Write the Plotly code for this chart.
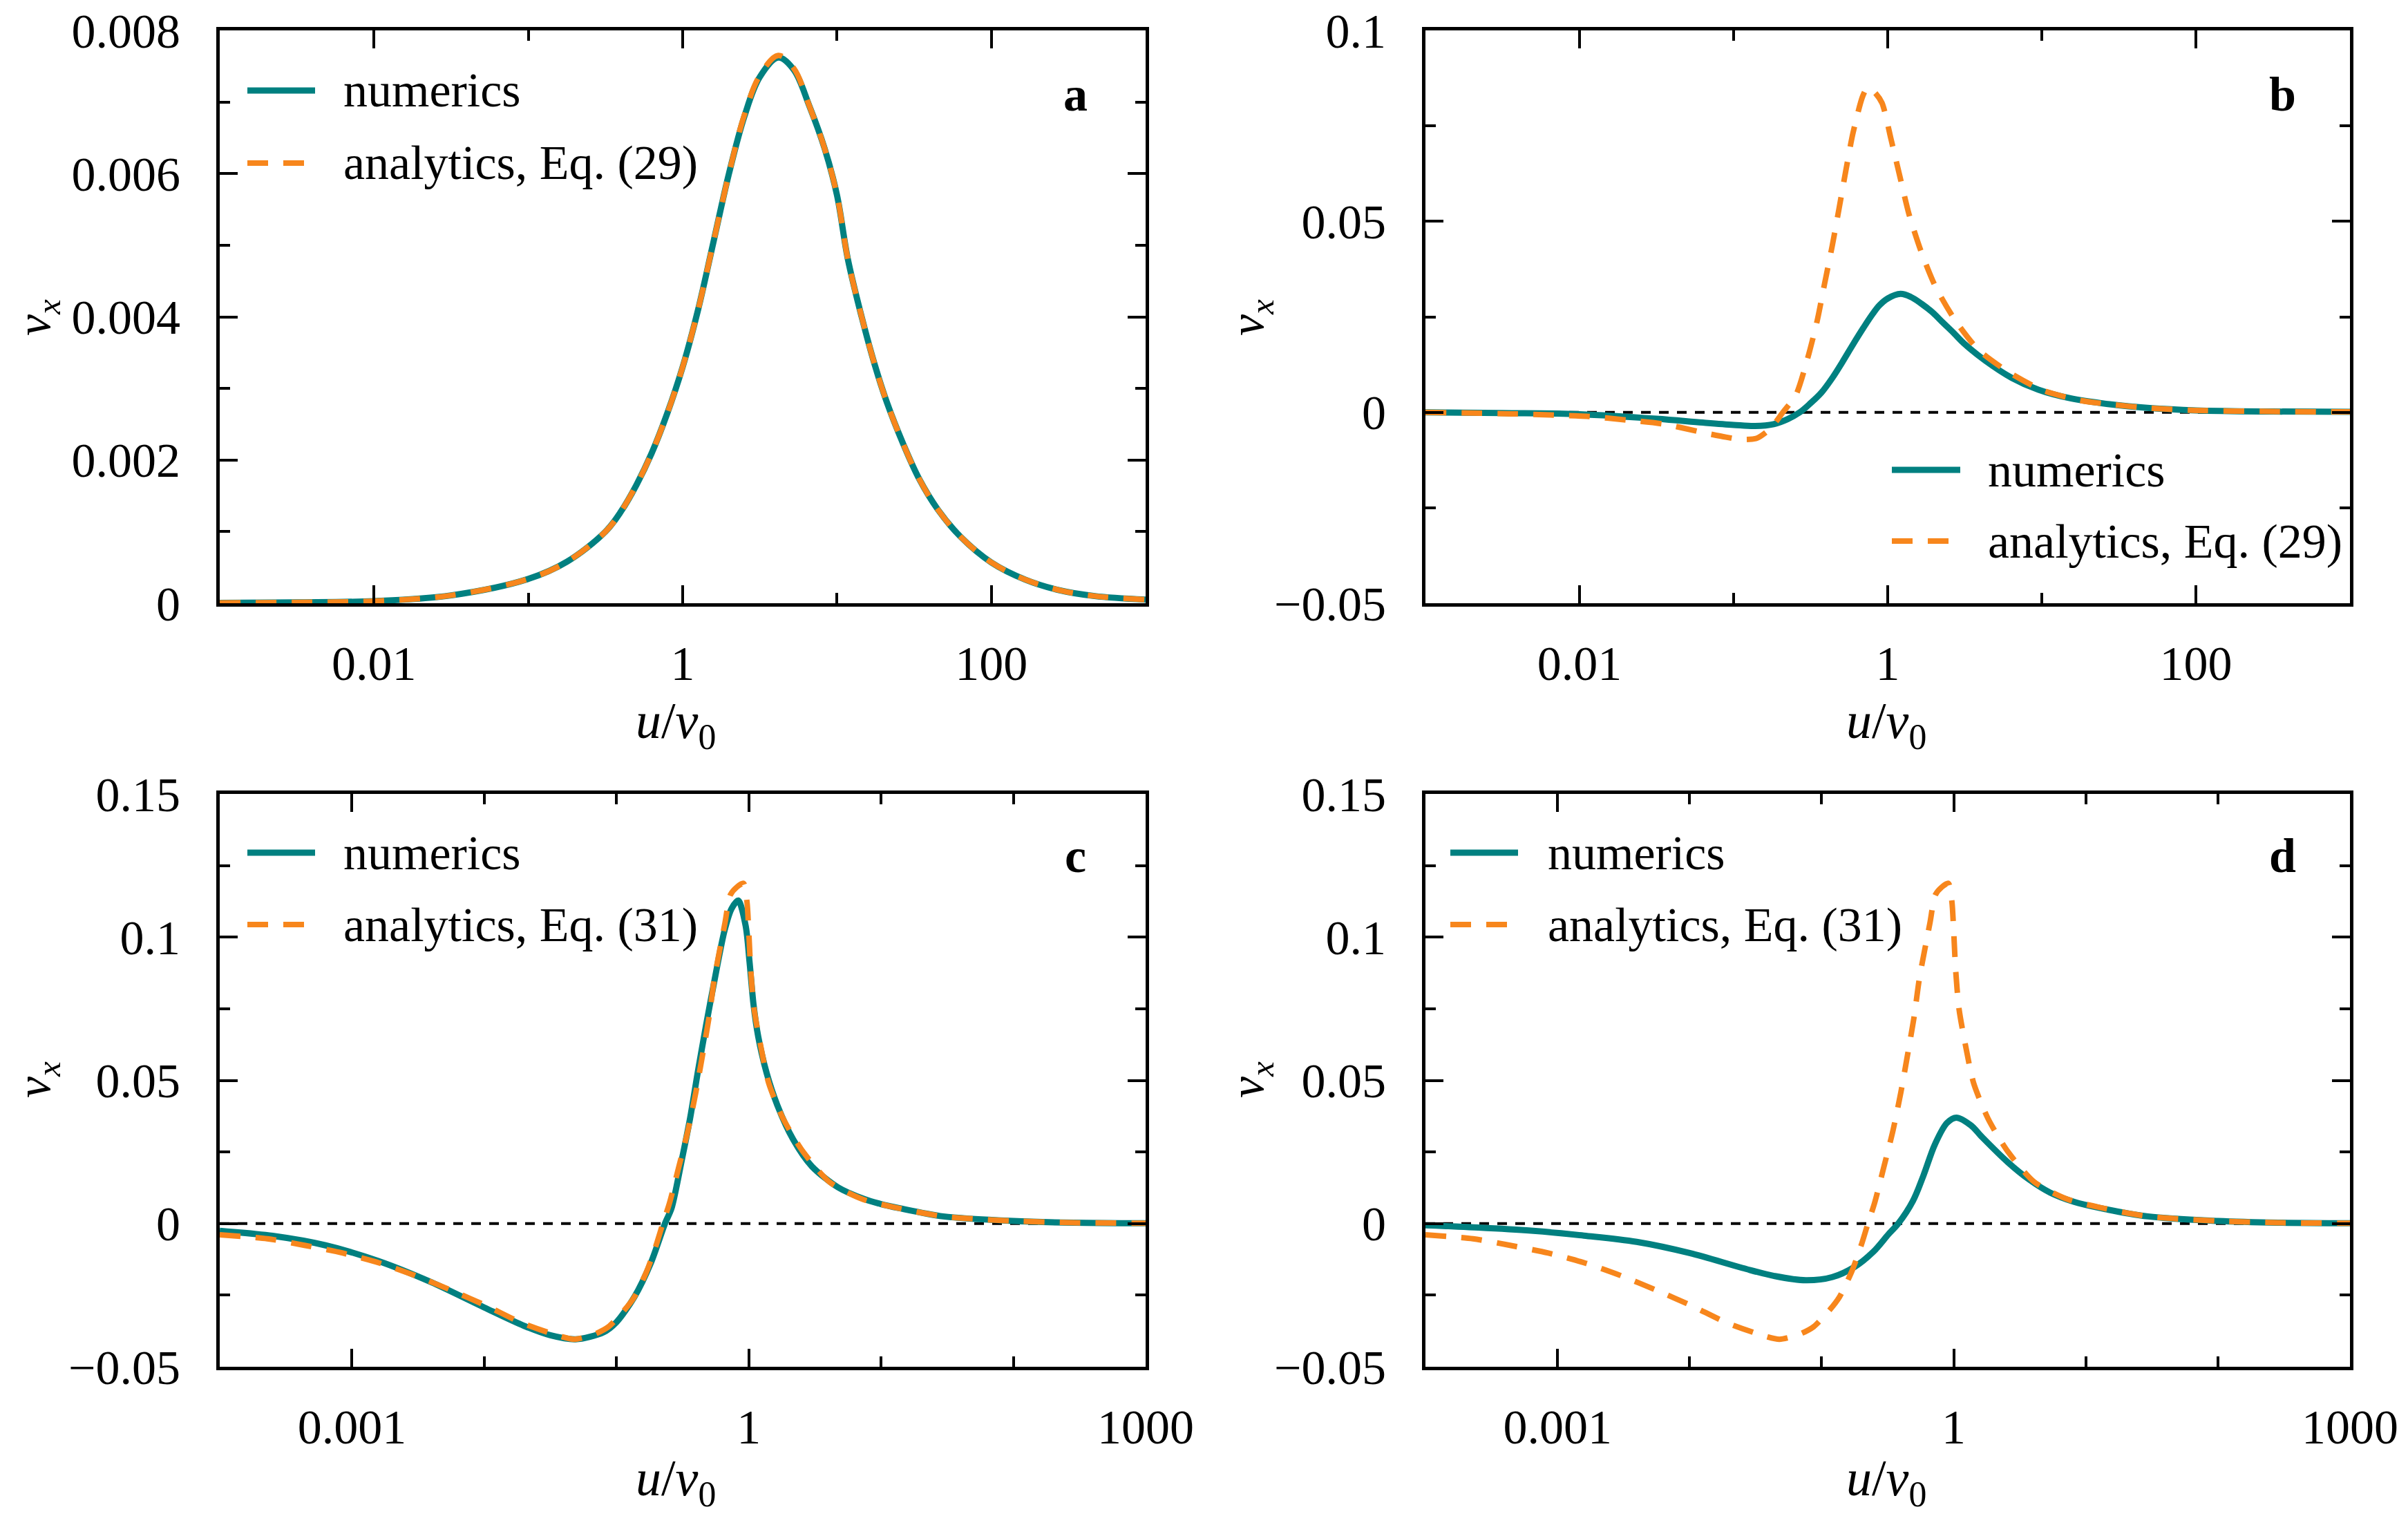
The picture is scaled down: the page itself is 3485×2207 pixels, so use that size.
import plotly.graph_objects as go

# ---------------- data ----------------
# Panel a  (u/v0 , v_x)
u_a = [0.001, 0.00316, 0.01, 0.0316, 0.1, 0.178, 0.316, 0.398, 0.501, 0.631,
       0.794, 1.0, 1.259, 1.585, 1.995, 2.512, 3.162, 4.169, 5.248, 6.607,
       8.318, 10.0, 11.75, 14.45, 17.46, 21.09, 26.92, 34.20, 44.98, 63.10,
       100.0, 166.0, 278.6, 467.7, 1000.0]
num_a = [0.000005, 0.000012, 0.00003, 0.00011, 0.00034, 0.00058, 0.00100, 0.00128, 0.00165, 0.00210,
         0.00265, 0.00330, 0.00410, 0.00505, 0.00600, 0.00680, 0.00735, 0.00762, 0.00745, 0.00695,
         0.00635, 0.00570, 0.00481, 0.00400, 0.00335, 0.00280, 0.00222, 0.00173, 0.00131, 0.00093,
         0.00057, 0.00033, 0.00018, 0.00010, 0.00005]
ana_a = [0.000005, 0.000012, 0.00003, 0.00011, 0.00034, 0.00058, 0.00100, 0.00128, 0.00165, 0.00210,
         0.00265, 0.00330, 0.00410, 0.00505, 0.00600, 0.00682, 0.00737, 0.00765, 0.00747, 0.00695,
         0.00635, 0.00570, 0.00481, 0.00400, 0.00335, 0.00280, 0.00222, 0.00173, 0.00131, 0.00093,
         0.00057, 0.00033, 0.00018, 0.00010, 0.00005]

# Panel b
u_b_num = [0.001, 0.00316, 0.01, 0.0316, 0.0631, 0.1, 0.138, 0.182, 0.224, 0.269,
           0.316, 0.372, 0.437, 0.507, 0.596, 0.695, 0.794, 0.883, 1.0, 1.211,
           1.413, 1.66, 1.95, 2.28, 2.69, 3.13, 4.31, 6.40, 9.51, 15.14,
           27.54, 50.1, 100.0, 316.2, 1000.0]
num_b = [0.0, -0.0002, -0.0005, -0.0017, -0.0027, -0.0033, -0.0036, -0.0031, -0.0018, 0.0,
         0.0024, 0.0052, 0.0090, 0.0131, 0.0178, 0.0221, 0.0256, 0.0280, 0.0298, 0.0310,
         0.0302, 0.0284, 0.0262, 0.0235, 0.0207, 0.0180, 0.0135, 0.0090, 0.0059, 0.0037,
         0.0021, 0.0011, 0.0005, 0.0002, 0.0001]
u_b_ana = [0.001, 0.00363, 0.00646, 0.01148, 0.01995, 0.0355, 0.0631, 0.0891, 0.1104, 0.1413,
           0.1738, 0.2089, 0.2535, 0.3006, 0.3483, 0.3890, 0.4365, 0.4831, 0.5333, 0.5943,
           0.6871, 0.7413, 0.8222, 0.9183, 1.054, 1.202, 1.374, 1.644, 2.042, 2.729,
           3.890, 6.166, 10.23, 17.78, 27.54, 50.1, 100.0, 316.2, 1000.0]
ana_b = [0.0, -0.0004, -0.0007, -0.0011, -0.0020, -0.0031, -0.0053, -0.0065, -0.0071, -0.0068,
         -0.0042, 0.0, 0.0045, 0.0138, 0.0239, 0.0336, 0.0436, 0.0533, 0.0630, 0.0730,
         0.0827, 0.0850, 0.0838, 0.0810, 0.0713, 0.0616, 0.0519, 0.0422, 0.0329, 0.0242,
         0.0163, 0.0104, 0.0057, 0.0031, 0.0021, 0.0011, 0.0005, 0.0002, 0.0001]

# Panel c
u_c_num = [0.0001, 0.000251, 0.000631, 0.001585, 0.00398, 0.01, 0.01995, 0.0316, 0.049, 0.0794,
           0.1, 0.1365, 0.1820, 0.2323, 0.2606, 0.3133, 0.3597, 0.4130, 0.4742, 0.5445,
           0.6546, 0.7413, 0.8318, 0.9462, 1.014, 1.086, 1.178, 1.367, 1.644, 2.168,
           2.992, 4.742, 7.516, 10.0, 13.68, 29.51, 100.0, 288.4, 1000.0]
num_c = [-0.0025, -0.0043, -0.0076, -0.0131, -0.0205, -0.0293, -0.0357, -0.0390, -0.0404, -0.0380,
         -0.0344, -0.0256, -0.0137, 0.0, 0.0054, 0.0228, 0.0367, 0.0533, 0.0690, 0.0838,
         0.1022, 0.1100, 0.1128, 0.1040, 0.0911, 0.0764, 0.0653, 0.0524, 0.0413, 0.0293,
         0.0200, 0.0126, 0.0085, 0.0068, 0.0054, 0.0025, 0.0009, 0.0003, 0.0001]

# Analytics, Eq. (31) (panels c and d)
u_eq31 = [0.0001, 0.000229, 0.000437, 0.000851, 0.001622, 0.00302, 0.00562, 0.01047, 0.01905, 0.0355,
          0.0479, 0.0676, 0.0871, 0.1148, 0.1365, 0.1698, 0.1995, 0.2239, 0.2512, 0.2951,
          0.3467, 0.3981, 0.4467, 0.5012, 0.5495, 0.6607, 0.7244, 0.8128, 0.9120, 0.9683,
          1.0, 1.033, 1.096, 1.230, 1.413, 1.820, 2.570, 4.074, 7.244, 12.88,
          29.51, 100.0, 288.4, 1000.0]
ana_c = [-0.0039, -0.0053, -0.0076, -0.0103, -0.0138, -0.0182, -0.0233, -0.0288, -0.0346, -0.0390,
         -0.0404, -0.0387, -0.0360, -0.0302, -0.0256, -0.0165, -0.0075, 0.0, 0.0071, 0.0196,
         0.0325, 0.0459, 0.0588, 0.0722, 0.0856, 0.1050, 0.1147, 0.1175, 0.1188, 0.1124,
         0.1017, 0.0888, 0.0750, 0.0620, 0.0491, 0.0366, 0.0251, 0.0145, 0.0085, 0.0056,
         0.0025, 0.0009, 0.0003, 0.0001]
ana_d = list(ana_c)

# Panel d numerics
u_d_num = [0.0001, 0.000251, 0.000631, 0.001585, 0.00398, 0.01, 0.0251, 0.0437, 0.0759, 0.1202,
           0.1778, 0.2455, 0.3236, 0.3802, 0.4898, 0.5888, 0.7244, 0.8913, 1.047, 1.349,
           1.622, 2.570, 3.715, 5.370, 8.128, 12.88, 29.51, 100.0, 288.4, 1000.0]
num_d = [-0.0006, -0.0014, -0.0025, -0.0042, -0.0064, -0.0103, -0.0155, -0.0183, -0.0198, -0.0187,
         -0.0151, -0.0099, -0.0035, 0.0, 0.0078, 0.0167, 0.0279, 0.0352, 0.0370, 0.0343,
         0.0304, 0.0214, 0.0154, 0.0108, 0.0076, 0.0054, 0.0025, 0.0009, 0.0003, 0.0001]

# Axis ticks
xt_ab = [0.01, 1, 100]
xt_ab_text = ["0.01", "1", "100"]
xminor_ab = [0.001, 0.1, 10, 1000]
xt_cd = [0.001, 1, 1000]
xt_cd_text = ["0.001", "1", "1000"]
xminor_cd = [0.0001, 0.01, 0.1, 10, 100]

yt_a = [0, 0.002, 0.004, 0.006, 0.008]
yt_a_text = ["0", "0.002", "0.004", "0.006", "0.008"]
yminor_a = [0.001, 0.003, 0.005, 0.007]
yt_b = [-0.05, 0, 0.05, 0.1]
yt_b_text = ["\u22120.05", "0", "0.05", "0.1"]
yminor_b = [-0.025, 0.025, 0.075]
yt_cd = [-0.05, 0, 0.05, 0.1, 0.15]
yt_cd_text = ["\u22120.05", "0", "0.05", "0.1", "0.15"]
yminor_cd = [-0.025, 0.025, 0.075, 0.125]

legend_ab = ["numerics", "analytics, Eq. (29)"]
legend_cd = ["numerics", "analytics, Eq. (31)"]
panel_labels = ["a", "b", "c", "d"]

# ---------------- styling ----------------
W, H = 3485, 2207
TEAL = "#008080"
ORANGE = "#F7861C"
FONT = "Liberation Serif"
FS = 70

dom_x = [(318 / W, 1658 / W), (2063 / W, 3401 / W)]
dom_y_top = (1 - 873 / H, 1 - 44 / H)
dom_y_bot = (1 - 1978 / H, 1 - 1149 / H)

fig = go.Figure()

panels = [
    dict(xa="x", ya="y", un=u_a, vn=num_a, ua=u_a, va=ana_a, dx=dom_x[0], dy=dom_y_top,
         xr=[-3, 3], xt=xt_ab, xtt=xt_ab_text, xm=xminor_ab, sn=1.0, sa=1.0,
         yr=[0, 0.008], yt=yt_a, ytt=yt_a_text, ym=yminor_a, zero=False),
    dict(xa="x2", ya="y2", un=u_b_num, vn=num_b, ua=u_b_ana, va=ana_b, dx=dom_x[1], dy=dom_y_top,
         xr=[-3, 3], xt=xt_ab, xtt=xt_ab_text, xm=xminor_ab, sn=1.0, sa=0.7,
         yr=[-0.05, 0.1], yt=yt_b, ytt=yt_b_text, ym=yminor_b, zero=True),
    dict(xa="x3", ya="y3", un=u_c_num, vn=num_c, ua=u_eq31, va=ana_c, dx=dom_x[0], dy=dom_y_bot,
         xr=[-4, 3], xt=xt_cd, xtt=xt_cd_text, xm=xminor_cd, sn=0.8, sa=0.7,
         yr=[-0.05, 0.15], yt=yt_cd, ytt=yt_cd_text, ym=yminor_cd, zero=True),
    dict(xa="x4", ya="y4", un=u_d_num, vn=num_d, ua=u_eq31, va=ana_d, dx=dom_x[1], dy=dom_y_bot,
         xr=[-4, 3], xt=xt_cd, xtt=xt_cd_text, xm=xminor_cd, sn=1.0, sa=0.7,
         yr=[-0.05, 0.15], yt=yt_cd, ytt=yt_cd_text, ym=yminor_cd, zero=True),
]

layout = {}
shapes = []
for i, p in enumerate(panels):
    fig.add_trace(go.Scatter(x=p["un"], y=p["vn"], mode="lines", xaxis=p["xa"], yaxis=p["ya"],
                             line=dict(color=TEAL, width=9, shape="spline", smoothing=p["sn"]),
                             name="numerics", showlegend=False))
    fig.add_trace(go.Scatter(x=p["ua"], y=p["va"], mode="lines", xaxis=p["xa"], yaxis=p["ya"],
                             line=dict(color=ORANGE, width=8, dash="30px,22px", shape="spline",
                                       smoothing=p["sa"]),
                             name="analytics", showlegend=False))
    xk = "xaxis" if i == 0 else f"xaxis{i+1}"
    yk = "yaxis" if i == 0 else f"yaxis{i+1}"
    common = dict(showline=True, linecolor="black", linewidth=5, mirror="ticks",
                  ticks="inside", ticklen=26, tickwidth=4, tickcolor="black",
                  showgrid=False, zeroline=False, automargin=False,
                  tickfont=dict(family=FONT, size=FS, color="black"))
    layout[xk] = dict(common, type="log", domain=list(p["dx"]), range=p["xr"], anchor=p["ya"],
                      tickmode="array", tickvals=p["xt"], ticktext=p["xtt"], ticklabelstandoff=22,
                      minor=dict(tickmode="array", tickvals=p["xm"], ticks="inside", ticklen=15,
                                 tickwidth=4, tickcolor="black", showgrid=False))
    layout[yk] = dict(common, domain=list(p["dy"]), range=p["yr"], anchor=p["xa"],
                      tickmode="array", tickvals=p["yt"], ticktext=p["ytt"], ticklabelstandoff=38,
                      minor=dict(tickmode="array", tickvals=p["ym"], ticks="inside", ticklen=15,
                                 tickwidth=4, tickcolor="black", showgrid=False))
    if p["zero"]:
        shapes.append(dict(type="line", xref=f"{p['xa']} domain", yref=p["ya"], x0=0, x1=1, y0=0, y1=0,
                           line=dict(color="black", width=4, dash="14px,12px"), layer="below"))

# legends (drawn manually to match reference sample length)
leg_pos = [
    dict(x0=358, x1=456, xt=495, y1=131, y2=236, labels=legend_ab),
    dict(x0=2738, x1=2837, xt=2875, y1=680, y2=783, labels=legend_ab),
    dict(x0=358, x1=456, xt=495, y1=1234, y2=1338, labels=legend_cd),
    dict(x0=2099, x1=2197, xt=2238, y1=1234, y2=1338, labels=legend_cd),
]
annotations = []
for lp in leg_pos:
    shapes.append(dict(type="line", xref="paper", yref="paper", x0=lp["x0"] / W, x1=lp["x1"] / W,
                       y0=1 - lp["y1"] / H, y1=1 - lp["y1"] / H, line=dict(color=TEAL, width=9)))
    shapes.append(dict(type="line", xref="paper", yref="paper", x0=lp["x0"] / W, x1=lp["x1"] / W,
                       y0=1 - lp["y2"] / H, y1=1 - lp["y2"] / H,
                       line=dict(color=ORANGE, width=8, dash="30px,22px")))
    for lab, yy in zip(lp["labels"], [lp["y1"], lp["y2"]]):
        annotations.append(dict(text=lab, xref="paper", yref="paper", x=lp["xt"] / W, y=1 - yy / H,
                                xanchor="left", yanchor="middle", showarrow=False,
                                font=dict(family=FONT, size=FS, color="black")))

# panel labels
for lab, (px, py) in zip(panel_labels, [(1556, 136), (3303, 136), (1556, 1238), (3303, 1238)]):
    annotations.append(dict(text=f"<b>{lab}</b>", xref="paper", yref="paper", x=px / W, y=1 - py / H,
                            xanchor="center", yanchor="middle", showarrow=False,
                            font=dict(family=FONT, size=FS, color="black")))

# axis titles
for (px, py) in [(54, 460), (1810, 460), (54, 1563), (1810, 1563)]:
    annotations.append(dict(text="<i>v</i><sub><i>x</i></sub>", xref="paper", yref="paper",
                            x=px / W, y=1 - py / H, xanchor="center", yanchor="middle",
                            textangle=-90, showarrow=False,
                            font=dict(family=FONT, size=70, color="black")))
for (px, py) in [(978, 1048), (2730, 1048), (978, 2144), (2730, 2144)]:
    annotations.append(dict(text="<i>u</i>/<i>v</i><sub>0</sub>", xref="paper", yref="paper",
                            x=px / W, y=1 - py / H, xanchor="center", yanchor="middle",
                            showarrow=False, font=dict(family=FONT, size=74, color="black")))

fig.update_layout(width=W, height=H, margin=dict(l=0, r=0, t=0, b=0),
                  paper_bgcolor="white", plot_bgcolor="white", showlegend=False,
                  shapes=shapes, annotations=annotations, **layout)

fig.write_html("out.html", config={"displayModeBar": False},
               post_script="document.body.style.margin='0px';document.body.style.overflow='hidden';")
